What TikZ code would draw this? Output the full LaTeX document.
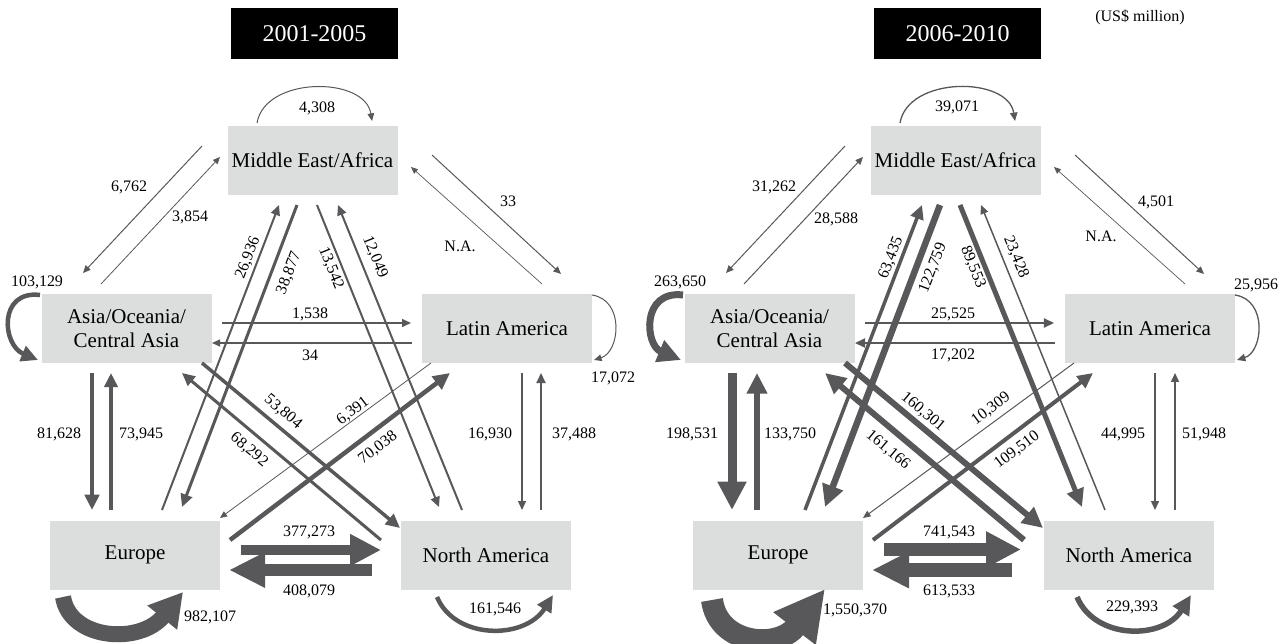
\documentclass[tikz,border=0pt]{standalone}
\usepackage{fontspec}
\setmainfont{Liberation Serif}
\usetikzlibrary{arrows.meta,calc}
\definecolor{ac}{RGB}{88,88,90}
\definecolor{bx}{RGB}{220,221,221}
\begin{document}
\begin{tikzpicture}[x=1pt,y=-1pt,
  region/.style={fill=bx,minimum width=170pt,minimum height=69pt,inner sep=0pt,align=center,font=\fontsize{21}{24}\selectfont},
  yearbox/.style={fill=black,text=white,minimum width=167pt,minimum height=51pt,inner sep=0pt,font=\fontsize{24}{27}\selectfont},
  lab/.style={inner sep=0pt,font=\fontsize{16}{19}\selectfont},
  fl/.style={draw=ac,line width=#1pt,-{Triangle[length=5pt 2.6,width=4pt 2.6]}},
  bl/.style n args={3}{draw=ac,line width=#1pt,-{Triangle[length=#2pt,width=#3pt]}},
]
\useasboundingbox (0,0) rectangle (1285,644);
\node[lab] (unit) at (1140,17.5) {(US\$ million)};
% ================= LEFT PANEL =================
\begin{scope}
\node[yearbox] (LT) at (314.5,33.5) {2001-2005};
\node[region] (LME) at (312.5,160.5) {Middle East/Africa};
\node[region] (LAS) at (126.5,328.5) {Asia/Oceania/\\Central Asia};
\node[region] (LLA) at (507,328.5) {Latin America};
\node[region] (LEU) at (135,555) {Europe};
\node[region] (LNA) at (486,555) {North America};
% loops
\draw[fl=1] ($(LME)+(-55.5,-37.5)$) .. controls ($(LME)+(-47.5,-84.5)$) and ($(LME)+(52.5,-84.5)$) .. ($(LME)+(59.5,-39.5)$);
\draw[fl=4.5] ($(LAS)+(-86.5,-33.5)$) .. controls ($(LAS)+(-128.5,-38.5)$) and ($(LAS)+(-124.5,16.5)$) .. ($(LAS)+(-88.5,31.5)$);
\draw[fl=1] ($(LLA)+(85,-33.5)$) .. controls ($(LLA)+(118,-28.5)$) and ($(LLA)+(113,23.5)$) .. ($(LLA)+(87,31.5)$);
\draw[bl={16}{33}{36}] ($(LEU)+(-72,42)$) .. controls ($(LEU)+(-65,85)$) and ($(LEU)+(5,90)$) .. ($(LEU)+(48,37)$);
\draw[fl=4.5] ($(LNA)+(-49,42)$) .. controls ($(LNA)+(-31,85)$) and ($(LNA)+(39,85)$) .. ($(LNA)+(67,40)$);
% ME - Asia, ME - Latin
\draw[fl=1] ($(LME)+(-110.5,-14.5)$) -- ($(LAS)+(-43.5,-55.5)$);
\draw[fl=0.8] ($(LAS)+(-25.5,-44.5)$) -- ($(LME)+(-92.5,-3.5)$);
\draw[fl=1] ($(LME)+(119.5,-5.5)$) -- ($(LLA)+(54,-54.5)$);
\draw[fl=0.7] ($(LLA)+(35,-44.5)$) -- ($(LME)+(98.5,6.5)$);
% Asia - Latin
\draw[fl=1.5] ($(LAS)+(95.5,-5.5)$) -- ($(LLA)+(-96,-5.5)$);
\draw[fl=1.2] ($(LLA)+(-95,14.5)$) -- ($(LAS)+(85.5,14.5)$);
% verticals
\draw[fl=4] ($(LAS)+(-34.5,44.5)$) -- ($(LEU)+(-43,-45)$);
\draw[fl=3.5] ($(LEU)+(-24,-45)$) -- ($(LAS)+(-15.5,44.5)$);
\draw[fl=1.5] ($(LLA)+(15,44.5)$) -- ($(LNA)+(36,-45)$);
\draw[fl=2] ($(LNA)+(55,-45)$) -- ($(LLA)+(34,44.5)$);
% Europe - North America
\draw[bl={10}{31}{30}] ($(LEU)+(106,-5)$) -- ($(LNA)+(-105,-5)$);
\draw[bl={12}{36}{33}] ($(LNA)+(-114,15)$) -- ($(LEU)+(94,15)$);
% diagonals
\draw[fl=2] ($(LEU)+(27,-45)$) -- ($(LME)+(-33.5,44.5)$);
\draw[fl=3] ($(LME)+(-15.5,44.5)$) -- ($(LEU)+(47,-48)$);
\draw[fl=2] ($(LME)+(4.5,44.5)$) -- ($(LNA)+(-47,-48)$);
\draw[fl=2] ($(LNA)+(-24,-45)$) -- ($(LME)+(25.5,44.5)$);
\draw[fl=3.5] ($(LAS)+(75.5,34.5)$) -- ($(LNA)+(-86,-27)$);
\draw[fl=3] ($(LNA)+(-105,-15)$) -- ($(LAS)+(55.5,44.5)$);
\draw[fl=0.8] ($(LLA)+(-76,34.5)$) -- ($(LEU)+(85,-37)$);
\draw[fl=4.5] ($(LEU)+(95,-15)$) -- ($(LLA)+(-57,44.5)$);
% labels
\node[lab] (l1) at (317,108) {4,308};
\node[lab] (l2) at (129,187) {6,762};
\node[lab] (l3) at (190,217) {3,854};
\node[lab] (l4) at (508,201) {33};
\node[lab] (l5) at (460,246) {N.A.};
\node[lab] (l6) at (37,282) {103,129};
\node[lab] (l7) at (613,378) {17,072};
\node[lab] (l8) at (310,314) {1,538};
\node[lab] (l9) at (310,355) {34};
\node[lab] (l10) at (59,434) {81,628};
\node[lab] (l11) at (141,434) {73,945};
\node[lab] (l12) at (490,434) {16,930};
\node[lab] (l13) at (574,434) {37,488};
\node[lab] (l14) at (309,532) {377,273};
\node[lab] (l15) at (309,591) {408,079};
\node[lab] (l16) at (210,617) {982,107};
\node[lab] (l17) at (495,609) {161,546};
\node[lab,rotate=69] (l18) at (248,258) {26,936};
\node[lab,rotate=69] (l19) at (289,273) {38,877};
\node[lab,rotate=-68] (l20) at (331,268) {13,542};
\node[lab,rotate=-68] (l21) at (375,257) {12,049};
\node[lab,rotate=-40] (l22) at (283,412) {53,804};
\node[lab,rotate=-40] (l23) at (249,450) {68,292};
\node[lab,rotate=37] (l24) at (353,411) {6,391};
\node[lab,rotate=37] (l25) at (378,448) {70,038};
\end{scope}
% ================= RIGHT PANEL =================
\begin{scope}[xshift=643pt]
\node[yearbox] (RT) at (314.5,33.5) {2006-2010};
\node[region] (RME) at (312.5,160.5) {Middle East/Africa};
\node[region] (RAS) at (126.5,328.5) {Asia/Oceania/\\Central Asia};
\node[region] (RLA) at (507,328.5) {Latin America};
\node[region] (REU) at (135,555) {Europe};
\node[region] (RNA) at (486,555) {North America};
% loops
\draw[fl=1.3] ($(RME)+(-55.5,-37.5)$) .. controls ($(RME)+(-47.5,-84.5)$) and ($(RME)+(52.5,-84.5)$) .. ($(RME)+(59.5,-39.5)$);
\draw[fl=7] ($(RAS)+(-86.5,-33.5)$) .. controls ($(RAS)+(-128.5,-38.5)$) and ($(RAS)+(-124.5,16.5)$) .. ($(RAS)+(-88.5,31.5)$);
\draw[fl=1.3] ($(RLA)+(85,-33.5)$) .. controls ($(RLA)+(118,-28.5)$) and ($(RLA)+(113,23.5)$) .. ($(RLA)+(87,31.5)$);
\draw[bl={22}{50}{50}] ($(REU)+(-66,45)$) .. controls ($(REU)+(-60,90)$) and ($(REU)+(0,95)$) .. ($(REU)+(47,34)$);
\draw[fl=5.5] ($(RNA)+(-52,42)$) .. controls ($(RNA)+(-34,85)$) and ($(RNA)+(34,85)$) .. ($(RNA)+(62,40)$);
% ME - Asia, ME - Latin
\draw[fl=1] ($(RME)+(-110.5,-14.5)$) -- ($(RAS)+(-43.5,-55.5)$);
\draw[fl=1] ($(RAS)+(-25.5,-44.5)$) -- ($(RME)+(-92.5,-3.5)$);
\draw[fl=1] ($(RME)+(119.5,-5.5)$) -- ($(RLA)+(54,-54.5)$);
\draw[fl=0.7] ($(RLA)+(35,-44.5)$) -- ($(RME)+(98.5,6.5)$);
% Asia - Latin
\draw[fl=2] ($(RAS)+(95.5,-5.5)$) -- ($(RLA)+(-96,-5.5)$);
\draw[fl=2] ($(RLA)+(-95,14.5)$) -- ($(RAS)+(85.5,14.5)$);
% verticals
\draw[fl=9] ($(RAS)+(-37.5,44.5)$) -- ($(REU)+(-46,-45)$);
\draw[fl=6] ($(REU)+(-21,-45)$) -- ($(RAS)+(-12.5,44.5)$);
\draw[fl=1.5] ($(RLA)+(5,44.5)$) -- ($(RNA)+(26,-45)$);
\draw[fl=1.5] ($(RNA)+(46,-45)$) -- ($(RLA)+(25,44.5)$);
% Europe - North America
\draw[bl={13}{35}{34}] ($(REU)+(106,-5.5)$) -- ($(RNA)+(-108,-5.5)$);
\draw[bl={14}{37}{34}] ($(RNA)+(-117,15)$) -- ($(REU)+(94,15)$);
% diagonals
\draw[fl=3.5] ($(REU)+(27,-45)$) -- ($(RME)+(-33.5,44.5)$);
\draw[fl=6.5] ($(RME)+(-15.5,44.5)$) -- ($(REU)+(47,-48)$);
\draw[fl=5] ($(RME)+(4.5,44.5)$) -- ($(RNA)+(-47,-48)$);
\draw[fl=1.5] ($(RNA)+(-24,-45)$) -- ($(RME)+(25.5,44.5)$);
\draw[fl=6] ($(RAS)+(75.5,34.5)$) -- ($(RNA)+(-86,-27)$);
\draw[fl=6] ($(RNA)+(-105,-15)$) -- ($(RAS)+(55.5,44.5)$);
\draw[fl=1] ($(RLA)+(-76,34.5)$) -- ($(REU)+(85,-37)$);
\draw[fl=4] ($(REU)+(95,-15)$) -- ($(RLA)+(-57,44.5)$);
% labels
\node[lab] (r1) at (314,107) {39,071};
\node[lab] (r2) at (131,187) {31,262};
\node[lab] (r3) at (193,219) {28,588};
\node[lab] (r4) at (513,202) {4,501};
\node[lab] (r5) at (458,236) {N.A.};
\node[lab] (r6) at (37,282) {263,650};
\node[lab] (r7) at (613,285) {25,956};
\node[lab] (r8) at (310,314) {25,525};
\node[lab] (r9) at (310,355) {17,202};
\node[lab] (r10) at (49,434) {198,531};
\node[lab] (r11) at (147,434) {133,750};
\node[lab] (r12) at (480,434) {44,995};
\node[lab] (r13) at (561,434) {51,948};
\node[lab] (r14) at (306,532) {741,543};
\node[lab] (r15) at (306,591) {613,533};
\node[lab] (r16) at (212,610) {1,550,370};
\node[lab] (r17) at (489,607) {229,393};
\node[lab,rotate=69] (r18) at (248,258) {63,435};
\node[lab,rotate=69] (r19) at (290,268) {122,759};
\node[lab,rotate=-68] (r20) at (330,267) {89,553};
\node[lab,rotate=-68] (r21) at (373,257) {23,428};
\node[lab,rotate=-40] (r22) at (280,412) {160,301};
\node[lab,rotate=-40] (r23) at (245,450) {161,166};
\node[lab,rotate=37] (r24) at (348,409) {10,309};
\node[lab,rotate=37] (r25) at (374,450) {109,510};
\end{scope}
\end{tikzpicture}
\end{document}
